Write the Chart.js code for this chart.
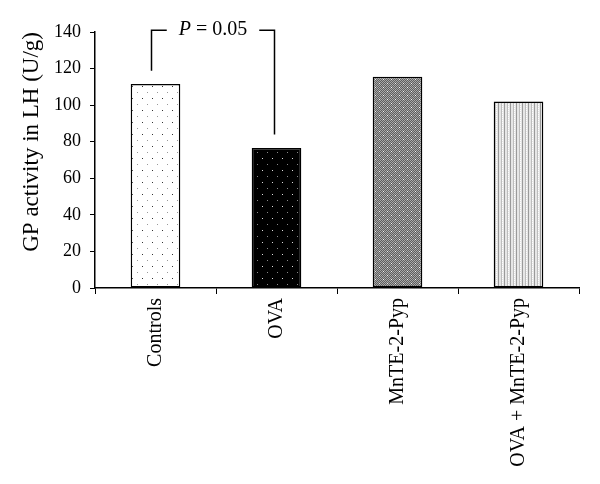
<!DOCTYPE html>
<html>
<head>
<meta charset="utf-8">
<script src="https://cdn.jsdelivr.net/npm/chart.js@4"></script>
<style>
    html, body { margin: 0; padding: 0; background: #fff; }
    #wrap { width: 600px; height: 484px; }
</style>
</head>
<body>
<div id="wrap"><canvas id="chartBar" width="600" height="484"></canvas></div>
<script>
    'use strict';

    // data
    var groups = ['Controls', 'OVA', 'MnTE-2-Pyp', 'OVA + MnTE-2-Pyp'];
    var gpActivity = [111.6, 76.5, 115.5, 102];
    var yTicks = [0, 20, 40, 60, 80, 100, 120, 140];

    // significance bracket: bar indices, top level, end levels
    var bracketBars = [0, 1];
    var bracketLevels = [141, 118.8, 84];

    var serif = '"Liberation Serif", "DejaVu Serif", serif';

    // little fill patterns to mimic the print hatching
    function makePattern(w, h, paint) {
        var c = document.createElement('canvas');
        c.width = w;
        c.height = h;
        var g = c.getContext('2d');
        paint(g);
        return g.createPattern(c, 'repeat');
    }

    var fills = [
        makePattern(10, 12, g => {
            g.fillStyle = '#fff'; g.fillRect(0, 0, 10, 12);
            g.fillStyle = '#333'; g.fillRect(2, 2, 1, 1);
            g.fillStyle = '#999'; g.fillRect(7, 8, 1, 1);
        }),
        makePattern(10, 12, g => {
            g.fillStyle = '#000'; g.fillRect(0, 0, 10, 12);
            g.fillStyle = '#ddd'; g.fillRect(2, 2, 1, 1);
            g.fillStyle = '#888'; g.fillRect(7, 8, 1, 1);
        }),
        makePattern(8, 8, g => {
            g.fillStyle = '#5e5e5e'; g.fillRect(0, 0, 8, 8);
            g.fillStyle = '#a8a8a8';
            for (var i = 0; i < 8; i++) {
                for (var j = 0; j < 8; j++) {
                    if ((i + j) % 2 === 0) g.fillRect(i, j, 1, 1);
                }
            }
            g.fillStyle = '#eee'; g.fillRect(3, 3, 1, 1); g.fillRect(7, 7, 1, 1);
        }),
        makePattern(6, 2, g => {
            g.fillStyle = '#e6e6e6'; g.fillRect(0, 0, 6, 2);
            g.fillStyle = '#9a9a9a'; g.fillRect(0, 0, 1, 2);
            g.fillStyle = '#bdbdbd'; g.fillRect(3, 0, 1, 2);
            g.fillStyle = '#fff'; g.fillRect(4, 0, 1, 1);
        })
    ];

    var bracketPlugin = {
        id: 'bracket',
        afterDatasetsDraw(chart) {
            var x = chart.scales.x, y = chart.scales.y, ctx = chart.ctx;
            var x0 = x.getPixelForValue(bracketBars[0]) - 4;
            var x1 = x.getPixelForValue(bracketBars[1]) - 2;
            var yt = y.getPixelForValue(bracketLevels[0]);
            var mid = (x0 + x1) / 2;
            ctx.save();
            ctx.font = 'italic 20px ' + serif;
            var pw = ctx.measureText('P').width;
            ctx.font = '20px ' + serif;
            var rest = ' = 0.05';
            var tw = pw + ctx.measureText(rest).width;
            ctx.strokeStyle = '#000';
            ctx.lineWidth = 1.5;
            ctx.beginPath();
            ctx.moveTo(x0, y.getPixelForValue(bracketLevels[1]));
            ctx.lineTo(x0, yt);
            ctx.lineTo(mid - tw / 2 - 12, yt);
            ctx.moveTo(mid + tw / 2 + 12, yt);
            ctx.lineTo(x1, yt);
            ctx.lineTo(x1, y.getPixelForValue(bracketLevels[2]));
            ctx.stroke();
            ctx.fillStyle = '#000';
            ctx.textBaseline = 'middle';
            ctx.textAlign = 'left';
            ctx.font = 'italic 20px ' + serif;
            ctx.fillText('P', mid - tw / 2, yt);
            ctx.font = '20px ' + serif;
            ctx.fillText(rest, mid - tw / 2 + pw, yt);
            ctx.restore();
        }
    };

    var ctx = document.getElementById('chartBar');
    var myBarChart = new Chart(ctx, {
        type: 'bar',
        data: {
            labels: groups,
            datasets: [{
                data: gpActivity,
                backgroundColor: fills,
                borderColor: '#000',
                borderWidth: 1.5,
                borderSkipped: false,
                barPercentage: 0.41,
                categoryPercentage: 1
            }]
        },
        options: {
            responsive: false,
            animation: false,
            layout: { padding: { top: 32, right: 21, left: 0, bottom: 0 } },
            plugins: {
                legend: { display: false },
                tooltip: { enabled: false }
            },
            scales: {
                x: {
                    grid: { offset: true, drawOnChartArea: false, color: '#000', tickLength: 6 },
                    border: { color: '#000', width: 1.5 },
                    ticks: {
                        color: '#000',
                        font: { family: serif, size: 20 },
                        minRotation: 90,
                        maxRotation: 90,
                        padding: 4,
                        autoSkip: false
                    },
                    afterFit(scale) { scale.height = 196; }
                },
                y: {
                    min: 0,
                    max: 140,
                    afterBuildTicks(scale) { scale.ticks = yTicks.map(v => ({ value: v })); },
                    grid: { drawOnChartArea: false, color: '#000', tickLength: 5 },
                    border: { color: '#000', width: 1.5 },
                    ticks: {
                        color: '#000',
                        font: { family: serif, size: 18 },
                        padding: 9
                    },
                    title: {
                        display: true,
                        text: 'GP activity in LH (U/g)',
                        align: 'end',
                        color: '#000',
                        font: { family: serif, size: 23 },
                        padding: { top: 18, bottom: 0 }
                    },
                    afterFit(scale) { scale.width = 95; }
                }
            }
        },
        plugins: [bracketPlugin]
    });
</script>
</body>
</html>
